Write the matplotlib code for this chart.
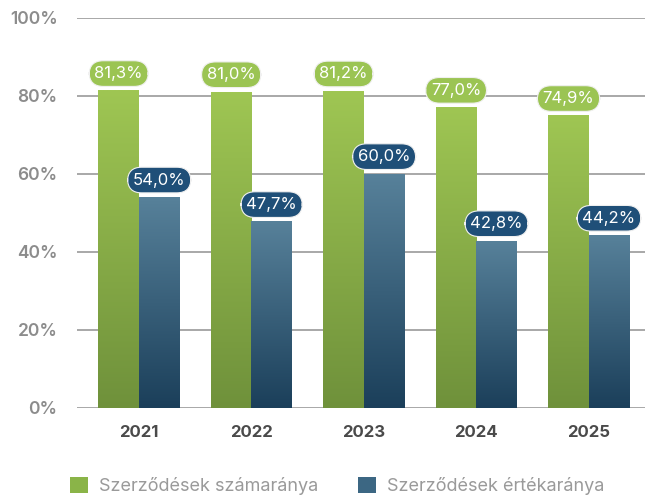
import numpy as np
import matplotlib.pyplot as plt
from matplotlib.colors import LinearSegmentedColormap
from matplotlib.patches import Patch

plt.rcParams['font.family'] = ['Inter', 'DejaVu Sans']

years = ['2021', '2022', '2023', '2024', '2025']
szamarany = [81.3, 81.0, 81.2, 77.0, 74.9]
ertekarany = [54.0, 47.7, 60.0, 42.8, 44.2]
series_names = ['Szerződések számaránya', 'Szerződések értékaránya']

green_top, green_bot = '#9fc653', '#6f913b'
blue_top, blue_bot = '#57819a', '#1b3f5a'
green_box, blue_box = '#9bc453', '#1f4f78'

fig = plt.figure(figsize=(6.47, 4.99), dpi=100)
ax = fig.add_axes([77 / 647, 91 / 499, 568 / 647, 390 / 499])

w = 0.36
x = np.arange(len(years))


def grad_bars(xs, vals, c_top, c_bot, box_col):
    cmap = LinearSegmentedColormap.from_list('g', [c_bot, c_top])
    grad = np.linspace(0, 1, 256).reshape(-1, 1)
    for xi, v in zip(xs, vals):
        ax.imshow(grad, cmap=cmap, origin='lower', aspect='auto',
                  extent=[xi - w / 2, xi + w / 2, 0, v], zorder=3, vmin=0, vmax=1)
        ax.annotate(f'{v:.1f}%'.replace('.', ','), (xi, v), xytext=(0, 12.5),
                    textcoords='offset points', ha='center', va='center',
                    color='white', fontsize=12, fontweight='normal', zorder=5,
                    bbox=dict(boxstyle='round,pad=0.32,rounding_size=0.85',
                              fc=box_col, ec='#f0f0f0', lw=0.8))


grad_bars(x - w / 2, szamarany, green_top, green_bot, green_box)
grad_bars(x + w / 2, ertekarany, blue_top, blue_bot, blue_box)

ax.set_xlim(-0.551, 4.5)
ax.set_ylim(0, 100)
ax.set_yticks(np.arange(0, 101, 20))
ax.set_yticklabels([f'{v}%' for v in range(0, 101, 20)])
ax.set_xticks(x)
ax.set_xticklabels(years)
ax.grid(axis='y', color='#a8a8a8', lw=1.4, zorder=1)
ax.tick_params(axis='y', length=0, pad=14, labelsize=12.5, labelcolor='#8c8c8c')
ax.tick_params(axis='x', length=0, pad=12, labelsize=12, labelcolor='#4a4a4a')
for lbl in ax.get_xticklabels():
    lbl.set_fontweight('bold')
for lbl in ax.get_yticklabels():
    lbl.set_fontweight('semibold')
for s in ax.spines.values():
    s.set_visible(False)

handles = [Patch(facecolor='#8ab448', label=series_names[0]),
           Patch(facecolor='#3c6783', label=series_names[1])]
fig.legend(handles=handles, loc='lower left', bbox_to_anchor=(54 / 647, -0.025), ncol=2,
           frameon=False, fontsize=13, labelcolor='#9a9a9a', handlelength=1.0,
           handleheight=1.0, handletextpad=0.6, columnspacing=2.2)

fig.savefig('out.png', dpi=100)
